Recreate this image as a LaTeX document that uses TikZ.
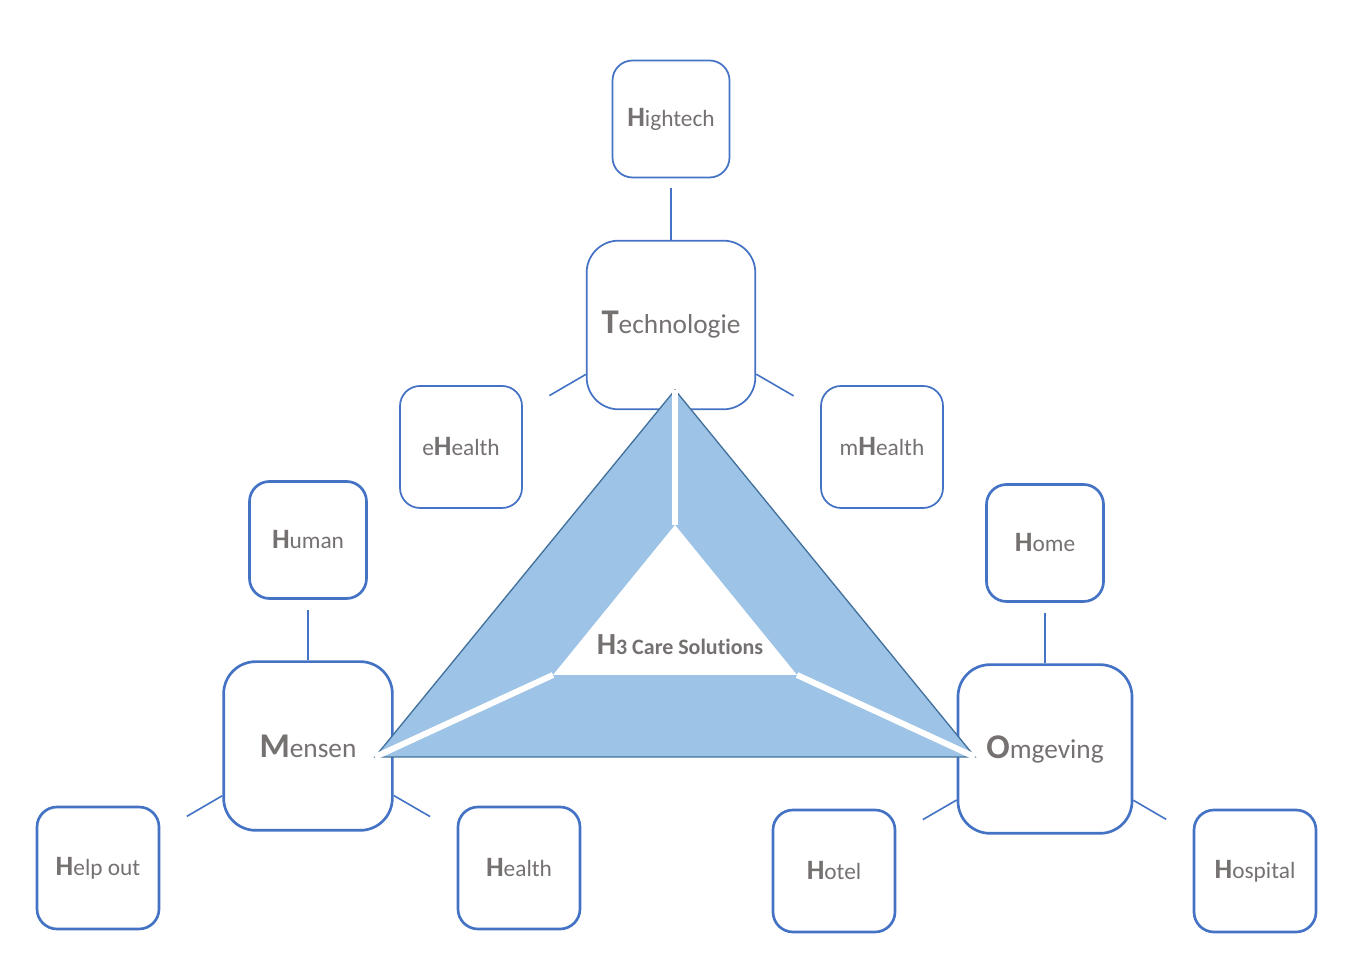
\documentclass[tikz,border=0pt]{standalone}
\usepackage{fontspec}
\setmainfont{Carlito}[Ligatures=NoCommon]
\usetikzlibrary{calc}
\definecolor{boxblue}{RGB}{68,114,196}
\definecolor{trifill}{RGB}{157,195,230}
\definecolor{triline}{RGB}{65,113,156}
\definecolor{txtgray}{RGB}{118,113,113}
\newcommand{\smalllab}[2]{{\fontsize{21}{24}\selectfont\bfseries #1}#2}
\newcommand{\biglab}[2]{{\fontsize{26}{30}\selectfont\bfseries #1}#2}

\begin{document}
\begin{tikzpicture}[x=0.75pt, y=0.75pt,
    box/.style={draw=boxblue, line width=2pt, rounded corners=15pt, fill=white, text=txtgray,
        minimum width=91.5pt, minimum height=91.5pt, inner sep=0pt, font=\fontsize{17.5}{20}\selectfont},
    thinbox/.style={box, line width=1.3pt},
    hub/.style={box, rounded corners=24pt, minimum width=126.5pt, minimum height=126.5pt, font=\fontsize{20.5}{24}\selectfont},
    link/.style={draw=boxblue, line width=1.2pt},
    gap/.style={draw=white, line width=4.5pt}
]
\useasboundingbox (0,0) rectangle (1346,955);

% Technologie branch
\node[thinbox, minimum width=87.75pt, minimum height=87.75pt] (hightech) at (671,836) {\smalllab{H}{ightech}};
\node[hub, line width=1.3pt] (tech) at (671,630) {\biglab{T}{echnologie}};
\node[thinbox] (ehealth) at (461,508) {e\smalllab{H}{ealth}};
\node[thinbox] (mhealth) at (882,508) {m\smalllab{H}{ealth}};

% Mensen branch
\node[box, minimum width=87.75pt, minimum height=87.75pt] (human) at (308,415) {\smalllab{H}{uman}};
\node[hub] (mensen) at (308,209) {\biglab{M}{ensen}};
\node[box] (helpout) at (98,87) {\smalllab{H}{elp out}};
\node[box] (health) at (519,87) {\smalllab{H}{ealth}};

% Omgeving branch
\node[box, minimum width=87.75pt, minimum height=87.75pt] (home) at (1045,412) {\smalllab{H}{ome}};
\node[hub, minimum width=130.5pt] (omgeving) at (1045,206) {\biglab{O}{mgeving}};
\node[box] (hotel) at (834,84) {\smalllab{H}{otel}};
\node[box] (hospital) at (1255,84) {\smalllab{H}{ospital}};

% Links
\draw[link, shorten <=7.5pt] (hightech) -- (tech);
\draw[link, shorten <=7.5pt] (human) -- (mensen);
\draw[link, shorten <=7.5pt] (home) -- (omgeving);
\draw[link, shorten >=23pt] (tech) -- (ehealth);
\draw[link, shorten >=23pt] (tech) -- (mhealth);
\draw[link, shorten >=23pt] (mensen) -- (helpout);
\draw[link, shorten >=23pt] (mensen) -- (health);
\draw[link, shorten >=23pt] (omgeving) -- (hotel);
\draw[link, shorten >=23pt] (omgeving) -- (hospital);

% Triangle
\coordinate (apex) at (675,565);
\coordinate (tl) at (375,198);
\coordinate (tr) at (975,198);
\coordinate (iapex) at (675,430);
\coordinate (il) at (553,280);
\coordinate (ir) at (797,280);
\filldraw[fill=trifill, draw=triline, line width=1pt] (apex) -- (tl) -- (tr) -- cycle;
\fill[white] (iapex) -- (il) -- (ir) -- cycle;
\draw[gap] (iapex) -- (apex);
\draw[gap] (il) -- (tl);
\draw[gap] (ir) -- (tr);
\node[text=txtgray, font=\fontsize{16.5}{20}\selectfont\bfseries] (core) at (680,310)
    {{\fontsize{23}{26}\selectfont H}3 Care Solutions};

\end{tikzpicture}
\end{document}
